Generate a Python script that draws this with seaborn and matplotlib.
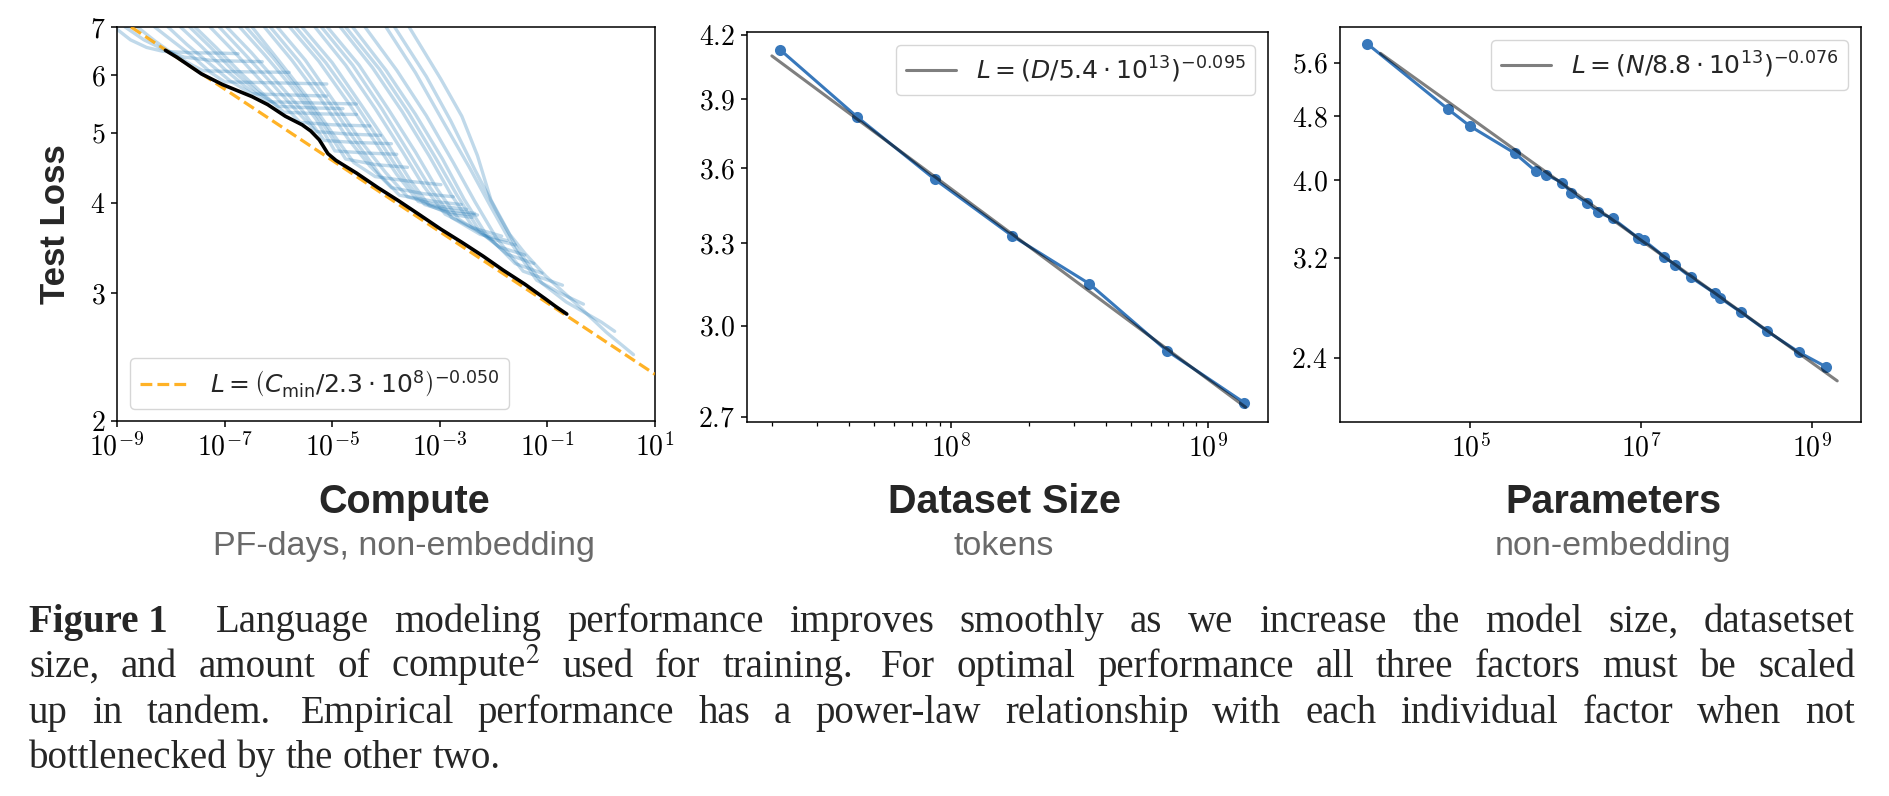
import numpy as np
import pandas as pd
import matplotlib
matplotlib.use("Agg")
import matplotlib.pyplot as plt
import matplotlib.ticker as mtick
from matplotlib.font_manager import FontProperties
import seaborn as sns

# ---------------- data ----------------
# Compute panel: training runs, log10(PF-days) and test loss
run_logc = [
    [-9.00, -8.75, -8.45, -8.15, -7.60, -7.00, -6.75],
    [-8.85, -8.50, -8.10, -7.75, -7.20, -6.30],
    [-8.62, -8.30, -7.95, -7.60, -7.40, -6.60, -5.80],
    [-8.30, -7.95, -7.60, -7.25, -7.00, -6.00, -5.10],
    [-8.05, -7.70, -7.30, -6.90, -6.50, -5.80, -5.10],
    [-7.82, -7.45, -7.00, -6.60, -6.20, -5.40, -4.55],
    [-7.65, -7.25, -6.80, -6.40, -6.00, -5.30, -4.80],
    [-7.55, -7.15, -6.70, -6.30, -5.90, -5.20, -4.55],
    [-7.27, -6.85, -6.40, -6.00, -5.60, -5.00, -4.30],
    [-7.10, -6.65, -6.15, -5.70, -5.30, -4.70, -4.10],
    [-6.96, -6.50, -6.00, -5.55, -5.15, -4.60, -3.90],
    [-6.72, -6.25, -5.75, -5.30, -4.95, -4.40, -3.80],
    [-6.60, -6.10, -5.60, -5.10, -4.75, -4.20, -3.60],
    [-6.49, -6.00, -5.50, -5.00, -4.60, -4.20, -3.50, -2.98],
    [-6.26, -5.75, -5.20, -4.70, -4.30, -3.90, -3.30, -2.75],
    [-6.15, -5.62, -5.05, -4.55, -4.12, -3.75, -3.10, -2.60],
    [-6.02, -5.50, -4.95, -4.45, -4.00, -3.60, -3.00, -2.50],
    [-5.79, -5.25, -4.70, -4.20, -3.80, -3.40, -2.90, -2.35],
    [-5.68, -5.12, -4.56, -4.06, -3.66, -3.28, -2.80, -2.30],
    [-5.56, -5.00, -4.45, -3.95, -3.55, -3.20, -2.80, -2.40],
    [-5.32, -4.75, -4.20, -3.70, -3.30, -2.90, -2.40, -1.85],
    [-5.20, -4.62, -4.08, -3.58, -3.18, -2.78, -2.25, -1.75],
    [-5.09, -4.50, -3.95, -3.45, -3.05, -2.65, -2.10, -1.60],
    [-4.85, -4.25, -3.70, -3.20, -2.80, -2.40, -1.90, -1.42],
    [-4.75, -4.12, -3.58, -3.08, -2.68, -2.28, -1.75, -1.25],
    [-4.62, -4.00, -3.45, -2.95, -2.55, -2.15, -1.60, -1.10],
    [-4.39, -3.80, -3.25, -2.75, -2.35, -1.95, -1.45, -0.72],
    [-4.00, -3.45, -2.95, -2.45, -2.05, -1.65, -1.20, -0.75, -0.33],
    [-3.84, -3.25, -2.80, -2.35, -1.95, -1.55, -1.10, -0.65, 0.00, 0.25],
    [-3.57, -2.98, -2.59, -2.30, -2.05, -1.70, -1.42, -1.03, -0.50, 0.10, 0.60],
]
run_loss = [
    [6.95, 6.72, 6.56, 6.48, 6.45, 6.44, 6.43],
    [7.00, 6.72, 6.50, 6.36, 6.29, 6.27],
    [7.00, 6.70, 6.42, 6.20, 6.09, 6.07, 6.06],
    [7.00, 6.68, 6.38, 6.05, 5.88, 5.86, 5.84],
    [7.00, 6.62, 6.25, 5.90, 5.66, 5.64, 5.62],
    [7.00, 6.60, 6.12, 5.78, 5.52, 5.50, 5.48],
    [7.00, 6.55, 6.05, 5.70, 5.44, 5.41, 5.40],
    [7.00, 6.55, 6.05, 5.67, 5.34, 5.31, 5.30],
    [7.00, 6.50, 5.98, 5.56, 5.17, 5.13, 5.11],
    [7.00, 6.45, 5.88, 5.40, 5.02, 4.98, 4.96],
    [7.00, 6.45, 5.85, 5.36, 4.88, 4.85, 4.83],
    [7.00, 6.40, 5.78, 5.22, 4.72, 4.69, 4.67],
    [7.00, 6.35, 5.70, 5.05, 4.60, 4.52, 4.48],
    [7.00, 6.30, 5.65, 5.00, 4.55, 4.35, 4.28, 4.24],
    [7.00, 6.30, 5.55, 4.90, 4.50, 4.20, 4.12, 4.08],
    [7.00, 6.28, 5.50, 4.85, 4.38, 4.10, 4.02, 3.98],
    [7.00, 6.30, 5.50, 4.85, 4.40, 4.08, 3.96, 3.92],
    [7.00, 6.28, 5.50, 4.85, 4.38, 4.02, 3.92, 3.87],
    [7.00, 6.25, 5.47, 4.80, 4.32, 3.98, 3.88, 3.85],
    [7.00, 6.25, 5.45, 4.80, 4.30, 3.97, 3.86, 3.82],
    [7.00, 6.20, 5.40, 4.72, 4.22, 3.86, 3.70, 3.60],
    [7.00, 6.20, 5.40, 4.70, 4.20, 3.82, 3.62, 3.55],
    [7.00, 6.20, 5.38, 4.70, 4.18, 3.80, 3.58, 3.50],
    [7.00, 6.15, 5.35, 4.65, 4.12, 3.72, 3.48, 3.39],
    [7.00, 6.12, 5.33, 4.62, 4.10, 3.68, 3.40, 3.30],
    [7.00, 6.10, 5.30, 4.60, 4.05, 3.63, 3.30, 3.20],
    [7.00, 6.10, 5.28, 4.55, 4.02, 3.58, 3.22, 3.08],
    [7.00, 6.05, 5.20, 4.48, 3.95, 3.50, 3.13, 3.00, 2.90],
    [7.00, 5.98, 5.20, 4.45, 3.90, 3.45, 3.10, 2.92, 2.74, 2.66],
    [7.00, 5.93, 5.27, 4.65, 4.04, 3.62, 3.41, 3.17, 2.92, 2.65, 2.47],
]
# lower envelope (black)
frontier_logc = [-8.10, -7.89, -7.43, -7.04, -6.49, -6.20, -5.87, -5.56, -5.40,
                 -5.24, -5.08, -4.93, -4.55, -4.15, -3.77, -3.37, -2.98, -2.59,
                 -2.20, -1.82, -1.42, -1.04, -0.85, -0.64]
frontier_loss = [6.50, 6.36, 6.03, 5.83, 5.61, 5.47, 5.27, 5.13, 5.03,
                 4.89, 4.68, 4.58, 4.40, 4.20, 4.03, 3.85, 3.68, 3.53,
                 3.38, 3.23, 3.09, 2.95, 2.88, 2.81]
compute_fit_c = [1e-9, 1e1]
compute_fit_loss = [7.21, 2.32]

# Dataset size panel
data_tokens = [2.15e7, 4.3e7, 8.6e7, 1.72e8, 3.44e8, 6.9e8, 1.38e9]
data_loss = [4.13, 3.82, 3.555, 3.33, 3.15, 2.915, 2.745]
data_fit_d = [2.0e7, 1.4e9]
data_fit_loss = [4.10, 2.73]

# Parameters panel
param_counts = [6.15e3, 5.45e4, 9.8e4, 3.3e5, 5.86e5, 7.77e5, 1.19e6, 1.52e6,
                2.35e6, 3.15e6, 4.65e6, 9.2e6, 1.07e7, 1.88e7, 2.5e7, 3.86e7,
                7.39e7, 8.42e7, 1.48e8, 2.99e8, 7.13e8, 1.46e9]
param_loss = [5.91, 4.90, 4.67, 4.32, 4.10, 4.06, 3.97, 3.857,
              3.74, 3.645, 3.584, 3.39, 3.368, 3.211, 3.135, 3.027,
              2.89, 2.855, 2.74, 2.596, 2.442, 2.344]
param_fit_n = [8.8e3, 2.0e9]
param_fit_loss = [5.75, 2.25]

caption_lines = [
    "Language modeling performance improves smoothly as we increase the model size, datasetset",
    "size, and amount of compute$^{2}$ used for training. For optimal performance all three factors must be scaled",
    "up in tandem. Empirical performance has a power-law relationship with each individual factor when not",
    "bottlenecked by the other two.",
]

# ---------------- style ----------------
sns.set_theme(style="ticks")
plt.rcParams["font.family"] = ["Liberation Sans", "DejaVu Sans"]
plt.rcParams["mathtext.fontset"] = "cm"
plt.rcParams["axes.edgecolor"] = "black"
plt.rcParams["axes.linewidth"] = 1.1
plt.rcParams["xtick.color"] = "black"
plt.rcParams["ytick.color"] = "black"

BLUE = "#3878bb"
W, H = 1890, 796
fig = plt.figure(figsize=(W / 100, H / 100), dpi=100)
fig.patch.set_facecolor("white")


def add_ax(x0, y0, x1, y1):
    return fig.add_axes([x0 / W, 1 - y1 / H, (x1 - x0) / W, (y1 - y0) / H])


ax1 = add_ax(117, 27, 655, 421)
ax2 = add_ax(747, 32, 1268, 422)
ax3 = add_ax(1340, 27, 1861, 422)

for ax in (ax1, ax2, ax3):
    ax.set_xscale("log")
    ax.set_yscale("log")

leg_font = FontProperties(family="DejaVu Sans", size=18, math_fontfamily="dejavusans")

# ---- panel 1: compute ----
rows = []
for i, (lc, ls) in enumerate(zip(run_logc, run_loss)):
    for c, l in zip(lc, ls):
        rows.append({"run": i, "compute": 10 ** c, "loss": l})
runs = pd.DataFrame(rows)
sns.lineplot(data=runs, x="compute", y="loss", units="run", estimator=None,
             sort=False, color="#1f77b4", alpha=0.28, lw=2.4, ax=ax1, legend=False)
sns.lineplot(x=compute_fit_c, y=compute_fit_loss, color="orange", alpha=0.85,
             lw=2.3, ls="--", ax=ax1, zorder=3,
             label=r"$L = \left(C_{\rm min}/2.3\cdot 10^{8}\right)^{-0.050}$")
sns.lineplot(x=[10 ** c for c in frontier_logc], y=frontier_loss, color="black",
             lw=2.6, sort=False, ax=ax1, zorder=4)
ax1.set_xlim(1e-9, 1e1)
ax1.set_ylim(2, 7)
ax1.xaxis.set_major_locator(mtick.FixedLocator([1e-9, 1e-7, 1e-5, 1e-3, 1e-1, 1e1]))
ax1.xaxis.set_major_formatter(mtick.FixedFormatter(
    [r"$10^{-9}$", r"$10^{-7}$", r"$10^{-5}$", r"$10^{-3}$", r"$10^{-1}$", r"$10^{1}$"]))
ax1.yaxis.set_major_locator(mtick.FixedLocator([2, 3, 4, 5, 6, 7]))
ax1.yaxis.set_major_formatter(mtick.FixedFormatter(["$2$", "$3$", "$4$", "$5$", "$6$", "$7$"]))
ax1.xaxis.set_minor_locator(mtick.NullLocator())
ax1.yaxis.set_minor_locator(mtick.NullLocator())
h, l = ax1.get_legend_handles_labels()
ax1.legend(h[-1:], l[-1:], loc="lower left", prop=leg_font, handlelength=2.0,
           frameon=True, fancybox=True, framealpha=0.8, edgecolor="#cccccc")

# ---- panel 2: dataset size ----
sns.lineplot(x=data_tokens, y=data_loss, color=BLUE, lw=2.2, marker="o",
             markersize=8, markeredgewidth=0, sort=False, ax=ax2)
sns.lineplot(x=data_fit_d, y=data_fit_loss, color="black", alpha=0.5, lw=2.2,
             ax=ax2, zorder=3, label=r"$L = \left(D/5.4\cdot 10^{13}\right)^{-0.095}$")
ax2.set_xlim(1.6e7, 1.71e9)
ax2.set_ylim(2.684, 4.215)
ax2.xaxis.set_major_locator(mtick.FixedLocator([1e8, 1e9]))
ax2.xaxis.set_major_formatter(mtick.FixedFormatter([r"$10^{8}$", r"$10^{9}$"]))
ax2.xaxis.set_minor_locator(mtick.LogLocator(base=10, subs=np.arange(2, 10), numticks=20))
ax2.xaxis.set_minor_formatter(mtick.NullFormatter())
ax2.yaxis.set_major_locator(mtick.FixedLocator([2.7, 3.0, 3.3, 3.6, 3.9, 4.2]))
ax2.yaxis.set_major_formatter(mtick.FixedFormatter(["$2.7$", "$3.0$", "$3.3$", "$3.6$", "$3.9$", "$4.2$"]))
ax2.yaxis.set_minor_locator(mtick.NullLocator())
h, l = ax2.get_legend_handles_labels()
ax2.legend(h[-1:], l[-1:], loc="upper right", prop=leg_font, handlelength=2.0,
           frameon=True, fancybox=True, framealpha=0.8, edgecolor="#cccccc")

# ---- panel 3: parameters ----
sns.lineplot(x=param_counts, y=param_loss, color=BLUE, lw=2.2, marker="o",
             markersize=8, markeredgewidth=0, sort=False, ax=ax3)
sns.lineplot(x=param_fit_n, y=param_fit_loss, color="black", alpha=0.5, lw=2.2,
             ax=ax3, zorder=3, label=r"$L = \left(N/8.8\cdot 10^{13}\right)^{-0.076}$")
ax3.set_xlim(2.95e3, 3.8e9)
ax3.set_ylim(2.0, 6.2)
ax3.xaxis.set_major_locator(mtick.FixedLocator([1e5, 1e7, 1e9]))
ax3.xaxis.set_major_formatter(mtick.FixedFormatter([r"$10^{5}$", r"$10^{7}$", r"$10^{9}$"]))
ax3.xaxis.set_minor_locator(mtick.NullLocator())
ax3.yaxis.set_major_locator(mtick.FixedLocator([2.4, 3.2, 4.0, 4.8, 5.6]))
ax3.yaxis.set_major_formatter(mtick.FixedFormatter(["$2.4$", "$3.2$", "$4.0$", "$4.8$", "$5.6$"]))
ax3.yaxis.set_minor_locator(mtick.NullLocator())
h, l = ax3.get_legend_handles_labels()
ax3.legend(h[-1:], l[-1:], loc="upper right", prop=leg_font, handlelength=2.0,
           frameon=True, fancybox=True, framealpha=0.8, edgecolor="#cccccc")

for ax in (ax1, ax2, ax3):
    ax.set_xlabel("")
    ax.set_ylabel("")
    ax.tick_params(which="major", length=4.5, width=1.1, labelsize=20, pad=4)
    ax.tick_params(which="minor", length=2.8, width=0.9)
    for s in ax.spines.values():
        s.set_visible(True)
        s.set_color("black")

# ---- axis titles ----
fig.text(56 / W, 1 - 224 / H, "Test Loss", rotation=90, ha="center", va="center",
         fontsize=25, fontweight="bold")
for cx, title, sub in [(404, "Compute", "PF-days, non-embedding"),
                       (1004, "Dataset Size", "tokens"),
                       (1613, "Parameters", "non-embedding")]:
    fig.text(cx / W, 1 - 513 / H, title, ha="center", va="baseline",
             fontsize=28.5, fontweight="bold")
    fig.text(cx / W, 1 - 555 / H, sub, ha="center", va="baseline",
             fontsize=24.5, color="#6a6a6a")

# ---- justified caption ----
cap_kw = dict(family="Liberation Serif", fontsize=28, va="baseline", ha="left",
              math_fontfamily="stix")
x_left, x_right = 29, 1855
baselines = [632, 677, 723, 768]
fig.canvas.draw()
renderer = fig.canvas.get_renderer()

for n, (line, base) in enumerate(zip(caption_lines, baselines)):
    items = []
    extra = []
    if n == 0:
        items.append(fig.text(0, 1 - base / H, "Figure 1", fontweight="bold", **cap_kw))
        extra.append(22)
    for w in line.split(" "):
        items.append(fig.text(0, 1 - base / H, w, **cap_kw))
        extra.append(6 if w.endswith(".") else 0)
    widths = [t.get_window_extent(renderer).width for t in items]
    if n < len(caption_lines) - 1:
        gap = (x_right - x_left - sum(widths) - sum(extra[:-1])) / (len(items) - 1)
    else:
        gap = 9.7
        extra = [0] * len(items)
    x = x_left
    for t, wd, ex in zip(items, widths, extra):
        t.set_x(x / W)
        x += wd + gap + ex

fig.savefig("out.png", dpi=100, facecolor="white")
